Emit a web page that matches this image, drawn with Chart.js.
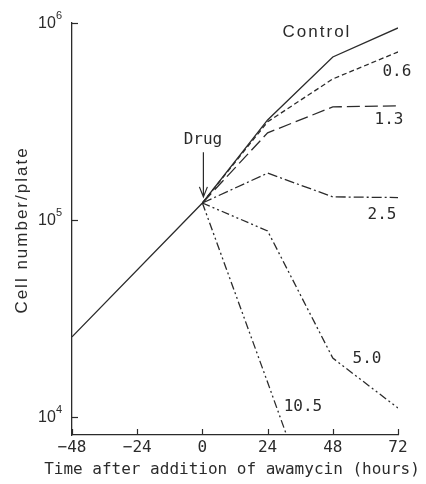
<!DOCTYPE html>
<html>
<head>
<meta charset="utf-8">
<script src="https://cdn.jsdelivr.net/npm/chart.js@4.4.0/dist/chart.umd.min.js"></script>
<style>
    html, body { margin: 0; padding: 0; background: #fff; }
    #wrap { width: 426px; height: 484px; }
</style>
</head>
<body>
<div id="wrap"><canvas id="myChart"></canvas></div>
<script>
// hours after drug addition
const controlHours = [-48, 0, 24, 48, 72]
const drugHours = [0, 24, 48, 72]
const steepHours = [0, 24, 48]

// cells per plate
const control = [25500, 122000, 322000, 672000, 944000]
const dose06 = [122000, 315000, 520000, 713000]
const dose13 = [122000, 277000, 375000, 380000]
const dose25 = [122000, 173000, 131000, 130000]
const dose50 = [122000, 88000, 19900, 11100]
const dose105 = [122000, 15000, 1800]

const xTicks = [-48, -24, 0, 24, 48, 72]
const yTicks = [1e4, 1e5, 1e6]
const yExponents = ['4', '5', '6']

const xTitle = 'Time after addition of awamycin (hours)'
const yTitle = 'Cell number/plate'

// text labels next to the curves: [text, hour, cells, font]
const curveLabels = [
    ['Control', 41.8, 900000, 'sans'],
    ['0.6', 71.6, 564000, 'mono'],
    ['1.3', 68.7, 321000, 'mono'],
    ['2.5', 66.1, 106000, 'mono'],
    ['5.0', 60.6, 19700, 'mono'],
    ['10.5', 37.0, 11200, 'mono'],
    ['Drug', 0.2, 255000, 'mono']
]
const arrowFrom = [0, 221000]
const arrowTo = [0, 131000]

const ink = '#2b2b2b'
const monoFont = '"DejaVu Sans Mono", monospace'
const sansFont = '"Liberation Sans", Arial, sans-serif'

const toPoints = (xs, ys) => xs.map((x, i) => ({x: x, y: ys[i]}))

const makeSet = (label, xs, ys, dash) => ({
    label: label,
    data: toPoints(xs, ys),
    borderColor: ink,
    borderWidth: 1.3,
    borderDash: dash,
    pointRadius: 0,
    fill: false,
    tension: 0
})

const extras = {
    id: 'extras',
    afterDraw: (chart) => {
        const ctx = chart.ctx
        const xs = chart.scales.x
        const ys = chart.scales.y
        const area = chart.chartArea
        ctx.save()
        ctx.strokeStyle = ink
        ctx.lineWidth = 1.2

        // inward tick marks
        for (const t of xTicks) {
            const px = Math.round(xs.getPixelForValue(t)) + 0.5
            ctx.beginPath()
            ctx.moveTo(px, area.bottom)
            ctx.lineTo(px, area.bottom - 6)
            ctx.stroke()
        }
        for (const t of yTicks) {
            const py = Math.round(ys.getPixelForValue(t)) + 0.5
            ctx.beginPath()
            ctx.moveTo(area.left, py)
            ctx.lineTo(area.left + 6, py)
            ctx.stroke()
        }

        // y tick labels with superscripts
        ctx.fillStyle = ink
        ctx.textBaseline = 'middle'
        yTicks.forEach((t, i) => {
            const py = ys.getPixelForValue(t)
            const right = area.left - 10
            ctx.font = '11px ' + sansFont
            ctx.textAlign = 'right'
            const supW = ctx.measureText(yExponents[i]).width
            ctx.fillText(yExponents[i], right, py - 7)
            ctx.font = '16px ' + sansFont
            ctx.fillText('10', right - supW, py + 1)
        })

        // curve labels
        ctx.textAlign = 'center'
        for (const [text, h, v, f] of curveLabels) {
            if (f == 'mono') {
                ctx.font = '16px ' + monoFont
                ctx.letterSpacing = '0px'
            } else {
                ctx.font = '17px ' + sansFont
                ctx.letterSpacing = '2px'
            }
            ctx.fillText(text, xs.getPixelForValue(h) + (f == 'mono' ? 0 : 1), ys.getPixelForValue(v))
        }

        // axis titles
        ctx.letterSpacing = '0px'
        ctx.font = '16px ' + monoFont
        ctx.fillText(xTitle, 232, 470)
        ctx.save()
        ctx.translate(22, 231)
        ctx.rotate(-Math.PI / 2)
        ctx.font = '17px ' + sansFont
        ctx.letterSpacing = '2px'
        ctx.fillText(yTitle, 1, 0)
        ctx.restore()

        // drug arrow
        const ax = xs.getPixelForValue(arrowFrom[0]) + 1
        const ay0 = ys.getPixelForValue(arrowFrom[1])
        const ay1 = ys.getPixelForValue(arrowTo[1])
        ctx.beginPath()
        ctx.moveTo(ax, ay0)
        ctx.lineTo(ax, ay1)
        ctx.moveTo(ax - 4, ay1 - 10)
        ctx.lineTo(ax, ay1)
        ctx.lineTo(ax + 4, ay1 - 10)
        ctx.stroke()
        ctx.restore()
    }
}

const ctx = document.getElementById('myChart').getContext('2d')
const myChart = new Chart(ctx, {
    type: 'line',
    data: {
        datasets: [
            makeSet('Control', controlHours, control, []),
            makeSet('0.6', drugHours, dose06, [5, 3]),
            makeSet('1.3', drugHours, dose13, [13, 5]),
            makeSet('2.5', drugHours, dose25, [10, 3, 2, 3]),
            makeSet('5.0', drugHours, dose50, [8, 3, 2, 3, 2, 3]),
            makeSet('10.5', steepHours, dose105, [8, 3, 2, 3, 2, 3])
        ]
    },
    options: {
        responsive: true,
        maintainAspectRatio: false,
        animation: false,
        layout: {padding: {left: 0, top: 23, right: 28, bottom: 0}},
        plugins: {
            legend: {display: false},
            tooltip: {enabled: false}
        },
        scales: {
            x: {
                type: 'linear',
                min: -48,
                max: 72,
                afterFit: (s) => { s.height = 49 },
                afterBuildTicks: (s) => { s.ticks = xTicks.map(v => ({value: v})) },
                grid: {display: false, drawTicks: false},
                border: {display: true, color: ink, width: 1.3},
                ticks: {
                    padding: 3,
                    color: ink,
                    font: {family: monoFont, size: 16},
                    callback: (v) => `${v}`.replace('-', '\u2212'),
                    maxRotation: 0
                }
            },
            y: {
                type: 'logarithmic',
                min: 8100,
                max: 1e6,
                afterFit: (s) => { s.width = 72 },
                afterBuildTicks: (s) => { s.ticks = yTicks.map(v => ({value: v})) },
                grid: {display: false, drawTicks: false},
                border: {display: true, color: ink, width: 1.3},
                ticks: {display: false}
            }
        }
    },
    plugins: [extras]
})
</script>
</body>
</html>
